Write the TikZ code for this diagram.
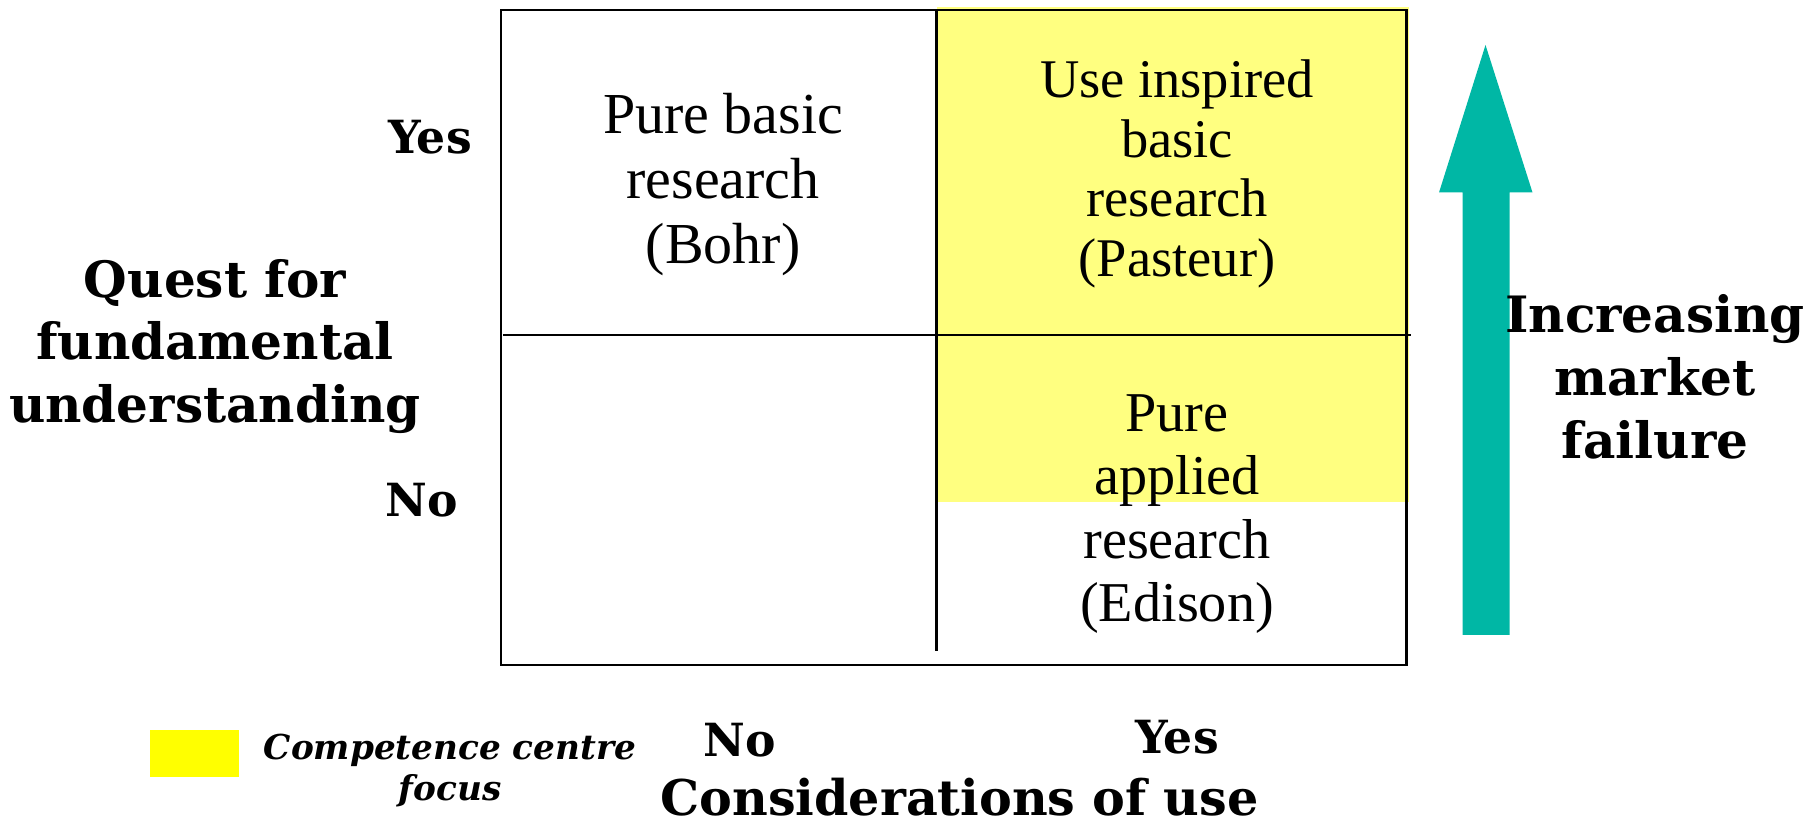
\documentclass[tikz,border=0pt]{standalone}
\usepackage{fontspec}
\setmainfont{Liberation Serif}
\newfontfamily\labelfont{DejaVu Serif}
\usepackage{tikz}
\usetikzlibrary{positioning, calc}
\usepackage{xcolor}
\definecolor{paleyellow}{RGB}{255,255,128}
\definecolor{legendyellow}{RGB}{255,255,0}
\definecolor{teal}{RGB}{0,183,165}

\tikzset{
  celltext/.style={align=center, inner sep=0pt, font=\fontsize{33}{37}\selectfont},
  axislabel/.style={align=center, inner sep=0pt, font=\labelfont\bfseries\fontsize{28.5}{35.7}\selectfont},
  ticklabel/.style={inner sep=0pt, font=\labelfont\bfseries\fontsize{26}{30}\selectfont},
}

\begin{document}
\begin{tikzpicture}
  \useasboundingbox (0,0) rectangle (36.12,16.52);
  % grid corners
  \coordinate (tl) at (10.02,16.32);
  \coordinate (br) at (28.13,3.22);
  % highlighted region
  \fill[paleyellow] (18.73,16.38) rectangle (28.18,6.47);
  \draw[line width=1.6pt] (tl) rectangle (br);
  \draw[line width=1.3pt] (18.73,16.32) -- (18.73,3.5);
  \draw[line width=1.3pt] (10.06,9.82) -- (28.22,9.82);
  % cells
  \node[celltext] (bohr) at (14.46,12.83) {Pure basic\\research\\(Bohr)};
  \node[celltext, font=\fontsize{31}{34}\selectfont] (pasteur) at (23.54,13.04) {Use inspired\\basic\\research\\(Pasteur)};
  \node[celltext, font=\fontsize{32}{36}\selectfont] (edison) at (23.54,6.24) {Pure\\applied\\research\\(Edison)};
  % vertical axis
  \node[ticklabel] (yyes) at (8.6,13.78) {Yes};
  \node[ticklabel] (yno) at (8.43,6.52) {No};
  \node[axislabel] (quest) at (4.3,9.59) {Quest for\\fundamental\\understanding};
  % horizontal axis
  \node[ticklabel] (xno) at (14.79,1.71) {No};
  \node[ticklabel] (xyes) at (23.54,1.78) {Yes};
  \node[axislabel, font=\labelfont\bfseries\fontsize{28}{34}\selectfont, anchor=base] (use) at (19.19,0.2) {Considerations of use};
  % legend
  \fill[legendyellow] (3.0,0.98) rectangle (4.77,1.92);
  \node[align=center, inner sep=0pt, font=\labelfont\bfseries\itshape\fontsize{19.5}{23.5}\selectfont] (legend) at (9.0,1.11) {Competence centre\\focus};
  % market failure arrow
  \fill[teal] (29.25,3.82) -- (29.25,12.67) -- (28.78,12.67) -- (29.71,15.62)
    -- (30.65,12.67) -- (30.19,12.67) -- (30.19,3.82) -- cycle;
  \node[axislabel] (failure) at (33.1,8.98) {Increasing\\market\\failure};
\end{tikzpicture}
\end{document}
